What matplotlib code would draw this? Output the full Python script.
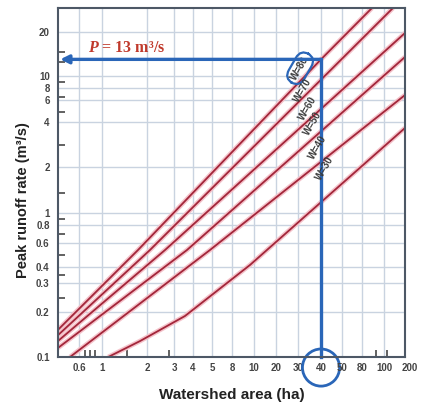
import numpy as np
import matplotlib
matplotlib.use('Agg')
import matplotlib.pyplot as plt
from matplotlib.ticker import FixedLocator, FuncFormatter, NullFormatter

plt.rcParams['font.family'] = ['Liberation Sans', 'DejaVu Sans']
plt.rcParams['mathtext.fontset'] = 'custom'
plt.rcParams['mathtext.it'] = 'Liberation Serif:italic:bold'
plt.rcParams['mathtext.rm'] = 'Liberation Serif:bold'

##### Dados #####

# curvas (área da bacia em ha, vazão de pico em m3/s)
areaW80 = [0.376, 1.74, 40, 88.5]
vazaoW80 = [0.152, 0.533, 13, 29.2]
areaW70 = [0.376, 2.09, 127]
vazaoW70 = [0.140, 0.533, 29.2]
areaW60 = [0.376, 2.62, 175]
vazaoW60 = [0.128, 0.533, 19.7]
areaW50 = [0.376, 3.65, 175]
vazaoW50 = [0.115, 0.533, 13.5]
areaW40 = [0.491, 4.88, 175]
vazaoW40 = [0.1, 0.533, 6.76]
areaW30 = [1.1, 1.8, 3.54, 9.6, 175]
vazaoW30 = [0.1, 0.128, 0.188, 0.414, 3.65]

curvas = [(areaW80, vazaoW80), (areaW70, vazaoW70), (areaW60, vazaoW60),
          (areaW50, vazaoW50), (areaW40, vazaoW40), (areaW30, vazaoW30)]

# rótulos das curvas e onde aparecem
rotulosW = ['W=80', 'W=70', 'W=60', 'W=50', 'W=40', 'W=30']
areaRotulo = [30.8, 31.9, 34.0, 36.2, 38.5, 41.7]
vazaoRotulo = [11.3, 7.6, 5.18, 3.94, 2.72, 1.97]

# leitura do exemplo
areaBacia = 40
vazaoPico = 13

# marcas do eixo (a escala do gráfico original é um log "torto")
xTicks = [0.6, 1, 2, 3, 4, 5, 8, 10, 20, 30, 40, 50, 80, 100, 200]
xTickPix = [79, 102, 147, 174, 193, 212, 232, 254, 276, 298, 321, 342, 362, 384, 410]
yTicks = [0.1, 0.2, 0.3, 0.4, 0.6, 0.8, 1, 2, 4, 6, 8, 10, 20]
yTickPix = [357, 312, 283, 267, 243, 225, 213, 167, 122, 100, 88, 76, 32]
xMinor = [0.69, 0.77, 0.86, 1.47, 2.8, 30, 92, 108]
yMinor = [14.6, 12.5, 8.94, 6.45, 4.81, 2.81, 1.35, 0.894, 0.693, 0.49, 0.346, 0.243]


def escalaTorta(vals, pix):
    lv = np.log10(vals)
    pix = np.asarray(pix, float)
    if pix[-1] < pix[0]:
        pix = -pix
    s0 = (pix[1] - pix[0]) / (lv[1] - lv[0])
    s1 = (pix[-1] - pix[-2]) / (lv[-1] - lv[-2])
    lv = np.r_[lv[0] - 3, lv, lv[-1] + 3]
    pix = np.r_[pix[0] - 3 * s0, pix, pix[-1] + 3 * s1]

    def fwd(v):
        v = np.asarray(v, float)
        l = np.log10(np.where(v > 0, v, 1e-12))
        return np.interp(l, lv, pix)

    def inv(p):
        return 10 ** np.interp(p, pix, lv)
    return fwd, inv


azul = '#2a66b8'
vermelho = '#a3263a'

fig = plt.figure(figsize=(4.22, 4.08), dpi=100)
ax = fig.add_axes([58 / 422, 51 / 408, 347 / 422, 349 / 408])

ax.set_xscale('function', functions=escalaTorta(xTicks, xTickPix))
ax.set_yscale('function', functions=escalaTorta(yTicks, yTickPix))
ax.set_xlim(0.376, 175)
ax.set_ylim(0.1, 29.2)

fmt = FuncFormatter(lambda v, p: f'{v:g}')
ax.xaxis.set_major_locator(FixedLocator(xTicks))
ax.xaxis.set_major_formatter(fmt)
ax.yaxis.set_major_locator(FixedLocator(yTicks))
ax.yaxis.set_major_formatter(fmt)
ax.xaxis.set_minor_locator(FixedLocator(xMinor))
ax.yaxis.set_minor_locator(FixedLocator(yMinor))
ax.xaxis.set_minor_formatter(NullFormatter())
ax.yaxis.set_minor_formatter(NullFormatter())

ax.tick_params(which='major', length=0, labelsize=7, labelcolor='#444')
ax.tick_params(axis='x', which='major', pad=4)
ax.tick_params(axis='y', which='major', pad=6)
ax.tick_params(which='minor', direction='in', length=5, width=1.3, color='#555')
for t in ax.get_xticklabels() + ax.get_yticklabels():
    t.set_fontweight('bold')

ax.grid(True, which='major', color='#c9d3e0', lw=1)
ax.set_axisbelow(True)
for s in ax.spines.values():
    s.set_color('#4d5866')
    s.set_linewidth(1.5)

# curvas
for area, vazao in curvas:
    ax.plot(area, vazao, color='#f4c2ca', lw=3.4, solid_capstyle='butt')
    ax.plot(area, vazao, color=vermelho, lw=1.3)

for i, rot in enumerate(rotulosW):
    caixa = None
    if i == 0:
        caixa = dict(boxstyle='round,pad=0.4,rounding_size=1.0', fc='none', ec=azul, lw=1.6)
    ax.text(areaRotulo[i], vazaoRotulo[i], rot, rotation=60, ha='center', va='center',
            fontsize=7, fontweight='bold', color='#3a3a3a', bbox=caixa)

# leitura: 40 ha -> 13 m3/s
ax.plot([areaBacia, areaBacia], [0.1, vazaoPico], color=azul, lw=2.4,
        solid_joinstyle='round', clip_on=False)
ax.annotate('', xy=(0.395, vazaoPico), xytext=(areaBacia, vazaoPico),
            arrowprops=dict(arrowstyle='-|>,head_length=0.5,head_width=0.25',
                            color=azul, lw=2.4, shrinkA=0, shrinkB=0))
ax.annotate(r'$P$ = 13 m³/s', xy=(0.73, vazaoPico), xytext=(0, 2.5),
            textcoords='offset points', ha='left', va='bottom',
            fontsize=11.5, color='#c0392b', family='Liberation Serif', fontweight='bold')

# 200 fica fora do eixo no original
ax.annotate('200', xy=(200, 0), xycoords=ax.get_xaxis_transform(), xytext=(0, -4),
            textcoords='offset points', ha='center', va='top', fontsize=7,
            fontweight='bold', color='#444', annotation_clip=False)

# círculo no 40
for t in ax.get_xticklabels():
    if t.get_text() == '40':
        t.set_bbox(dict(boxstyle='circle,pad=1.35', fc='none', ec=azul, lw=2))

ax.set_xlabel('Watershed area (ha)', fontsize=11, fontweight='bold', color='#222')
ax.set_ylabel('Peak runoff rate (m³/s)', fontsize=10.5, fontweight='bold', color='#222')
ax.xaxis.set_label_coords(0.5, -0.09)
ax.yaxis.set_label_coords(-0.08, 0.45)

plt.savefig('out.png', dpi=100)
